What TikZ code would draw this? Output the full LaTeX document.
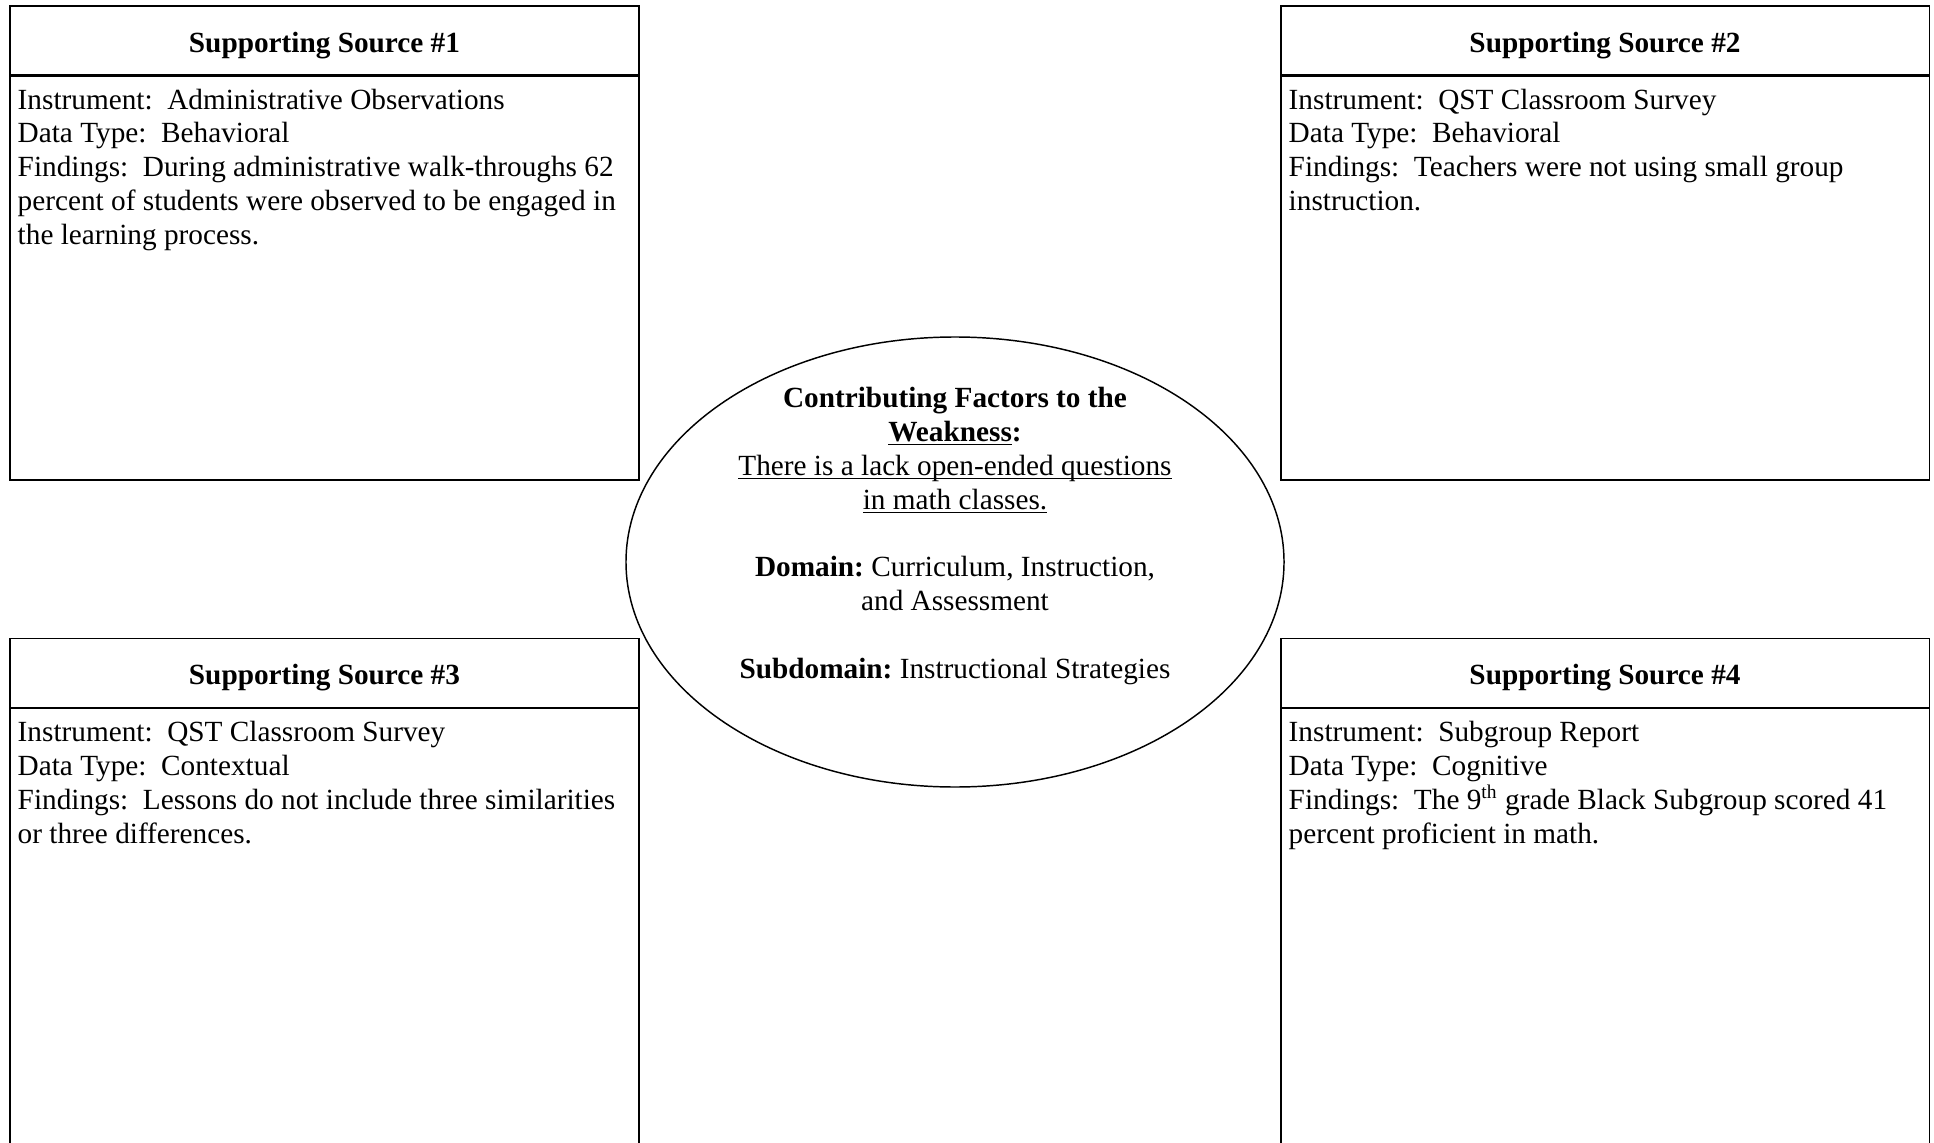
\documentclass[tikz,border=0pt]{standalone}
\usepackage{fontspec}
\setmainfont{Liberation Serif}
\usetikzlibrary{positioning,shapes.geometric}
\newcommand{\ulbar}[1]{\underline{\smash{#1}}}

\begin{document}
\begin{tikzpicture}[
  x=0.41pt, y=-0.41pt,
  font=\fontsize{12}{13.9}\selectfont,
  head/.style={rectangle, draw, line width=0.45pt, minimum height=28.3pt, inner sep=0pt, text height=9.8pt, text depth=0pt, font=\fontsize{12}{13.9}\selectfont\bfseries},
  body/.style={rectangle, draw, line width=0.45pt, inner sep=0pt},
  info/.style={anchor=north west, align=left, inner xsep=3.2pt, inner ysep=5.2pt},
  factor/.style={ellipse, draw, line width=0.6pt, inner sep=0pt, minimum width=269.8pt, minimum height=184.5pt}
]
  \useasboundingbox (0,0) rectangle (1934,1143);
  \clip (0,0) rectangle (1934,1143);

  \node[head, minimum width=257.9pt] (head1) at (324.5,40.5) {Supporting Source \#1};
  \node[body, minimum width=257.9pt, minimum height=165.6pt, below=0pt of head1] (body1) {};
  \node[info] (info1) at (body1.north west) {Instrument:\ \ Administrative Observations\\
    Data Type:\ \ Behavioral\\
    Findings:\ \ During administrative walk-throughs 62\\
    percent of students were observed to be engaged in\\
    the learning process.};

  \node[head, minimum width=265.7pt] (head2) at (1605,40.5) {Supporting Source \#2};
  \node[body, minimum width=265.7pt, minimum height=165.6pt, below=0pt of head2] (body2) {};
  \node[info] (info2) at (body2.north west) {Instrument:\ \ QST Classroom Survey\\
    Data Type:\ \ Behavioral\\
    Findings:\ \ Teachers were not using small group\\
    instruction.};

  \node[head, minimum width=257.9pt] (head3) at (324.5,673) {Supporting Source \#3};
  \node[body, minimum width=257.9pt, minimum height=188.6pt, below=0pt of head3] (body3) {};
  \node[info] (info3) at (body3.north west) {Instrument:\ \ QST Classroom Survey\\
    Data Type:\ \ Contextual\\
    Findings:\ \ Lessons do not include three similarities\\
    or three differences.};

  \node[head, minimum width=265.7pt] (head4) at (1605,673) {Supporting Source \#4};
  \node[body, minimum width=265.7pt, minimum height=188.6pt, below=0pt of head4] (body4) {};
  \node[info] (info4) at (body4.north west) {Instrument:\ \ Subgroup Report\\
    Data Type:\ \ Cognitive\\
    Findings:\ \ The 9\textsuperscript{th} grade Black Subgroup scored 41\\
    percent proficient in math.};

  \node[factor] (core) at (955,562) {};
  \node[align=center] (coretext) at (955,536) {\textbf{Contributing Factors to the}\\
    \textbf{\ulbar{Weakness}:}\\
    \ulbar{There is a lack open-ended questions}\\
    \ulbar{in math classes.}\\[13.9pt]
    \textbf{Domain:}\ Curriculum, Instruction,\\
    and Assessment\\[13.9pt]
    \textbf{Subdomain:}\ Instructional Strategies};
\end{tikzpicture}
\end{document}
